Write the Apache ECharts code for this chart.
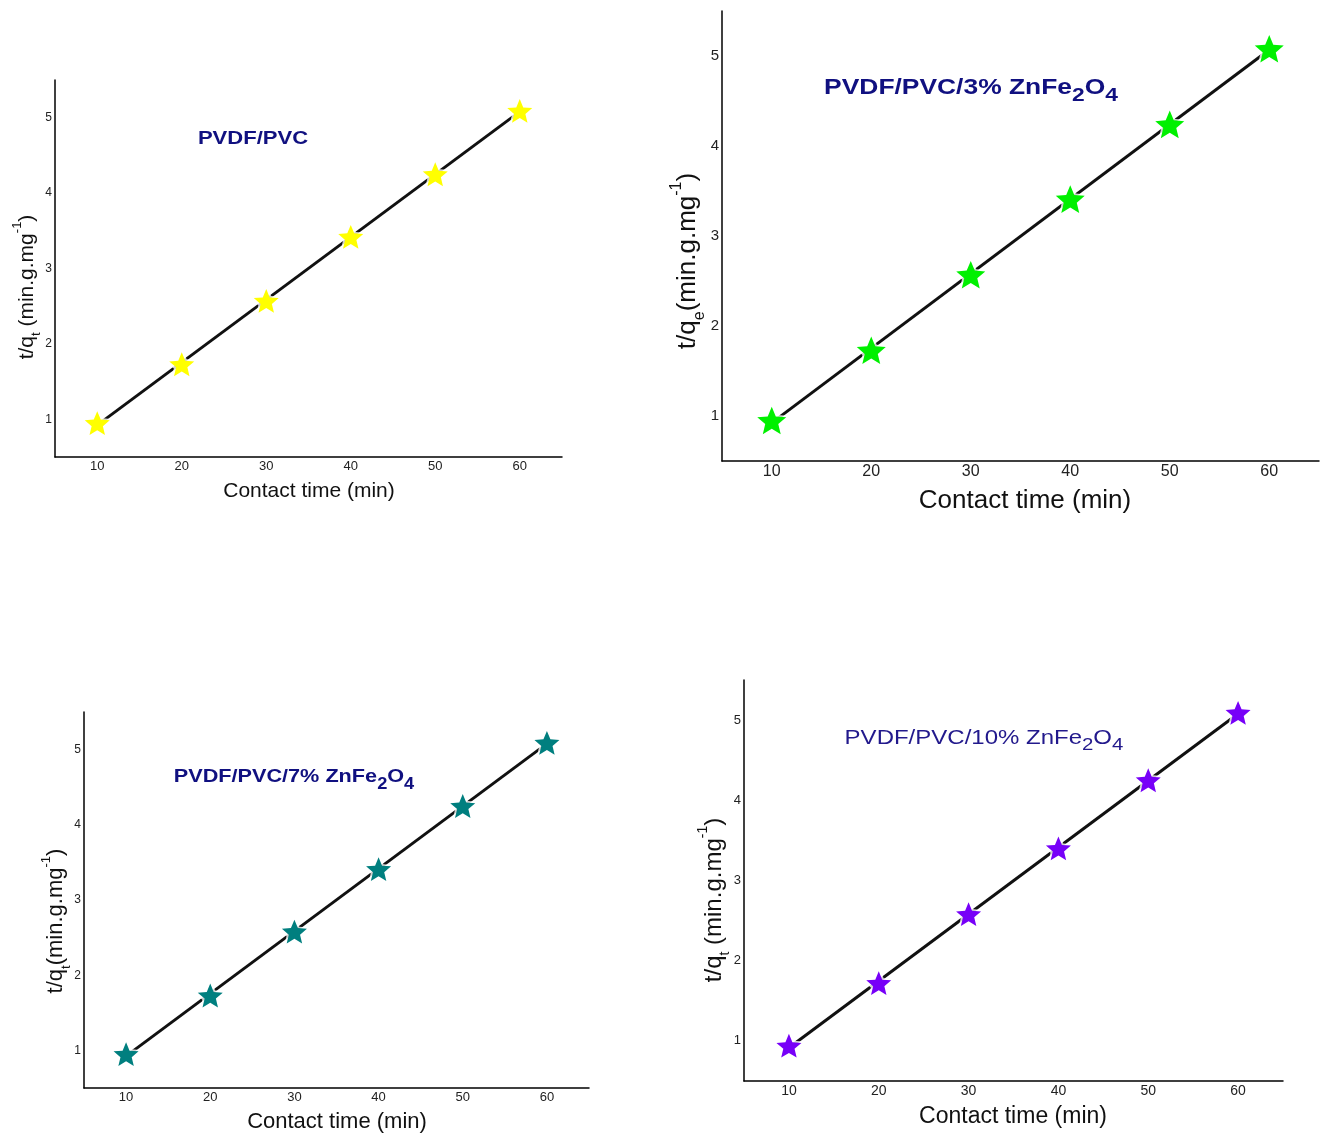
<!DOCTYPE html>
<html><head><meta charset="utf-8">
<script src="https://cdn.jsdelivr.net/npm/echarts@6/dist/echarts.min.js"></script>
<style>html,body{margin:0;padding:0;background:#fff}#c{width:1322px;height:1134px}</style>
</head><body><div id="c"></div>
<script>
// ---------- data ----------
const contactTime = [10, 20, 30, 40, 50, 60];
const tqPVDF_PVC   = [0.95, 1.73, 2.57, 3.42, 4.25, 5.09];
const tqPVC_3ZnFe  = [0.95, 1.73, 2.57, 3.41, 4.24, 5.08];
const tqPVC_7ZnFe  = [0.95, 1.73, 2.58, 3.41, 4.25, 5.09];
const tqPVC_10ZnFe = [0.94, 1.72, 2.58, 3.40, 4.25, 5.09];
const xTickLabels = [10, 20, 30, 40, 50, 60];
const yTickLabels = [1, 2, 3, 4, 5];
const xAxisTitle = 'Contact time (min)';
const panelNames = ['PVDF/PVC', 'PVDF/PVC/3% ZnFe2O4', 'PVDF/PVC/7% ZnFe2O4', 'PVDF/PVC/10% ZnFe2O4'];
const yTitles = [
  '{m|t/q}{s|t}{m| (min.g.mg}{p|-1}{m|)}',
  '{m|t/q}{s|e}{m|(min.g.mg}{p|-1}{m|)}',
  '{m|t/q}{s|t}{m|(min.g.mg}{p|-1}{m|)}',
  '{m|t/q}{s|t}{m| (min.g.mg}{p|-1}{m|)}'
];
const panelTitlesRich = [
  '{m|PVDF/PVC}',
  '{m|PVDF/PVC/3% ZnFe}{s|2}{m|O}{s|4}',
  '{m|PVDF/PVC/7% ZnFe}{s|2}{m|O}{s|4}',
  '{m|PVDF/PVC/10% ZnFe}{s|2}{m|O}{s|4}'
];
const seriesData = [tqPVDF_PVC, tqPVC_3ZnFe, tqPVC_7ZnFe, tqPVC_10ZnFe];

// ---------- styles / layout ----------
const FONT = '"Liberation Sans", Arial, sans-serif';
const panels = [
  { color: '#ffff00', grid: {left: 55, top: 80, width: 507, height: 377}, tick: 13, sym: 25,
    xName: {x: 309, y: 491, fs: 21}, yName: {x: 27, y: 287, fs: 21},
    ann: {x: 253, y: 139, fs: 19, bold: true, sx: 1.16, color: '#101080'} },
  { color: '#00f000', grid: {left: 722, top: 11, width: 608, height: 450}, tick: 16, sym: 29,
    xName: {x: 1025, y: 501, fs: 26}, yName: {x: 688, y: 261, fs: 26},
    ann: {x: 971, y: 88, fs: 22, bold: true, sx: 1.2, color: '#101080'} },
  { color: '#007f7f', grid: {left: 84, top: 712, width: 505, height: 376}, tick: 13, sym: 25,
    xName: {x: 337, y: 1122, fs: 22}, yName: {x: 56, y: 921, fs: 22},
    ann: {x: 294, y: 777, fs: 19, bold: true, sx: 1.14, color: '#101080'} },
  { color: '#7700f8', grid: {left: 744, top: 680, width: 539, height: 401}, tick: 14, sym: 25,
    xName: {x: 1013, y: 1117, fs: 23}, yName: {x: 714, y: 900, fs: 24},
    ann: {x: 984, y: 738, fs: 20, bold: false, sx: 1.2, color: '#22198c'} }
];

const STAR = 'path://M0,-1 L0.2645,-0.364 L0.951,-0.309 L0.428,0.139 L0.5878,0.809 L0,0.45 L-0.5878,0.809 L-0.428,0.139 L-0.951,-0.309 L-0.2645,-0.364 Z';

function linFit(xs, ys) {
  const n = xs.length;
  const mx = xs.reduce((a, b) => a + b, 0) / n;
  const my = ys.reduce((a, b) => a + b, 0) / n;
  let sxy = 0, sxx = 0;
  for (let i = 0; i < n; i++) { sxy += (xs[i] - mx) * (ys[i] - my); sxx += (xs[i] - mx) ** 2; }
  const b = sxy / sxx, a = my - b * mx;
  return x => a + b * x;
}

const grids = [], xAxes = [], yAxes = [], series = [], graphics = [];
panels.forEach((p, i) => {
  grids.push(Object.assign({containLabel: false}, p.grid));
  xAxes.push({
    type: 'value', gridIndex: i, min: 5, max: 65, interval: 5,
    axisLine: {show: true, onZero: false, lineStyle: {color: '#000', width: 1.5}},
    axisTick: {show: false}, splitLine: {show: false},
    axisLabel: {margin: 3, fontSize: p.tick, color: '#222', fontFamily: FONT,
      formatter: v => xTickLabels.includes(v) ? String(v) : ''}
  });
  yAxes.push({
    type: 'value', gridIndex: i, min: 0.5, max: 5.5, interval: 0.5,
    axisLine: {show: true, onZero: false, lineStyle: {color: '#000', width: 1.5}},
    axisTick: {show: false}, splitLine: {show: false},
    axisLabel: {margin: 3, fontSize: p.tick - 1, color: '#222', fontFamily: FONT,
      formatter: v => yTickLabels.includes(v) ? String(v) : ''}
  });
  const ys = seriesData[i];
  const f = linFit(contactTime, ys);
  const x0 = contactTime[0], x1 = contactTime[contactTime.length - 1];
  series.push({
    type: 'line', xAxisIndex: i, yAxisIndex: i, data: [[x0, f(x0)], [x1, f(x1)]],
    symbol: 'none', lineStyle: {color: '#111', width: 3}, z: 1, silent: true, animation: false
  });
  const pts = contactTime.map((x, k) => [x, ys[k]]);
  series.push({
    type: 'scatter', xAxisIndex: i, yAxisIndex: i, data: pts, symbol: STAR, symbolKeepAspect: true,
    symbolSize: p.sym + 10, itemStyle: {color: '#fff'}, z: 2, silent: true, animation: false
  });
  series.push({
    type: 'scatter', xAxisIndex: i, yAxisIndex: i, data: pts, symbol: STAR, symbolKeepAspect: true,
    symbolSize: p.sym, itemStyle: {color: p.color, opacity: 1}, z: 3, silent: true, animation: false
  });

  // x axis title
  graphics.push({
    type: 'text', x: p.xName.x, y: p.xName.y,
    style: {text: xAxisTitle, fill: '#111', fontSize: p.xName.fs, fontFamily: FONT,
      align: 'center', verticalAlign: 'middle'}
  });
  // y axis title (rotated, rich)
  const fs = p.yName.fs;
  graphics.push({
    type: 'text', x: p.yName.x, y: p.yName.y, rotation: Math.PI / 2,
    style: {text: yTitles[i], fill: '#111', fontFamily: FONT, fontSize: fs,
      align: 'center', verticalAlign: 'middle',
      rich: {
        m: {fontSize: fs, fontFamily: FONT, fill: '#111', lineHeight: fs * 1.5, verticalAlign: 'middle'},
        s: {fontSize: Math.round(fs * 0.6), fontFamily: FONT, fill: '#111', lineHeight: Math.round(fs * 0.55), verticalAlign: 'bottom'},
        p: {fontSize: Math.round(fs * 0.6), fontFamily: FONT, fill: '#111', lineHeight: Math.round(fs * 0.6), verticalAlign: 'top'}
      }}
  });
  // panel annotation
  const a = p.ann, w = a.bold ? 'bold' : 'normal';
  graphics.push({
    type: 'text', x: a.x, y: a.y, scaleX: a.sx, scaleY: 1,
    style: {text: panelTitlesRich[i], fill: a.color, fontFamily: FONT, fontSize: a.fs, fontWeight: w,
      align: 'center', verticalAlign: 'middle',
      rich: {
        m: {fontSize: a.fs, fontFamily: FONT, fontWeight: w, fill: a.color, lineHeight: a.fs * 1.6, verticalAlign: 'middle'},
        s: {fontSize: Math.round(a.fs * 0.85), fontFamily: FONT, fontWeight: w, fill: a.color, lineHeight: Math.round(a.fs * 0.8), verticalAlign: 'bottom'}
      }}
  });
});

const chart = echarts.init(document.getElementById('c'), null, {renderer: 'canvas'});
chart.setOption({
  backgroundColor: '#fff',
  animation: false,
  grid: grids, xAxis: xAxes, yAxis: yAxes, series: series,
  graphic: {elements: graphics}
});
</script>
</body></html>
